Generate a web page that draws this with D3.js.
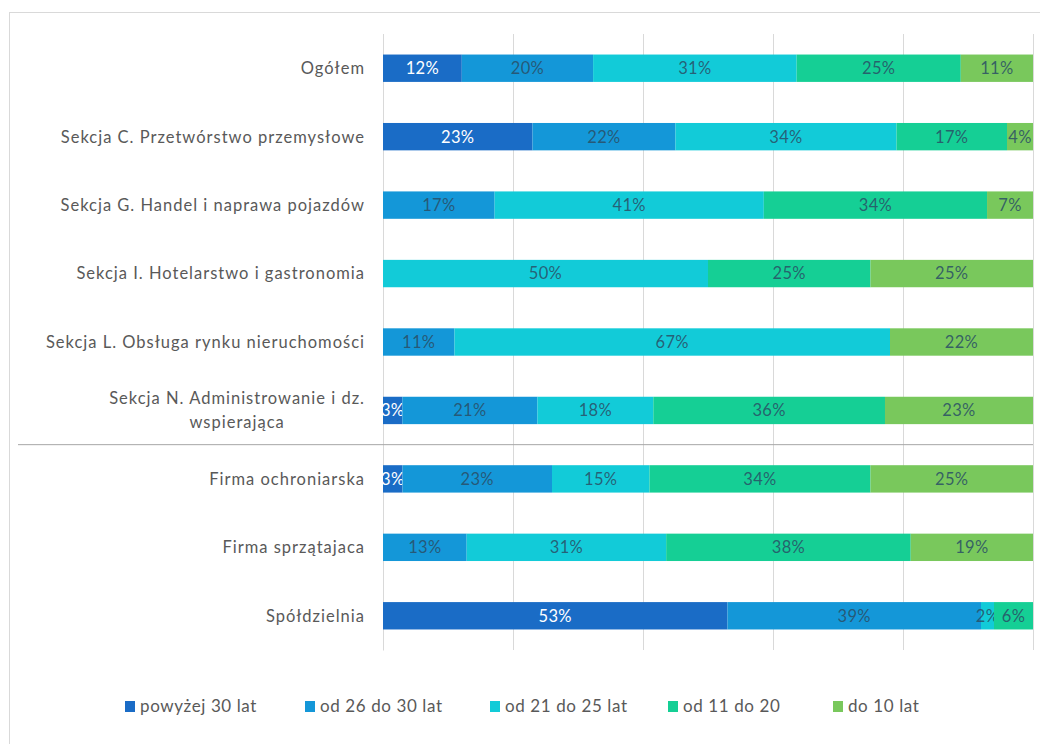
<!DOCTYPE html>
<html>
<head>
<meta charset="utf-8">
<script src="https://cdn.jsdelivr.net/npm/d3@7"></script>
<style>
  html, body { margin: 0; padding: 0; background: #fff; }
  svg { display: block; }
  text { font-family: Lato, "Open Sans", sans-serif; }
</style>
</head>
<body>
<svg id="chart" width="1040" height="744"></svg>
<script>
// Categories (top to bottom); "\n" splits a label over two lines
const categories = [
  "Ogółem",
  "Sekcja C. Przetwórstwo przemysłowe",
  "Sekcja G. Handel i naprawa pojazdów",
  "Sekcja I. Hotelarstwo i gastronomia",
  "Sekcja L. Obsługa rynku nieruchomości",
  "Sekcja N. Administrowanie i dz.\nwspierająca",
  "Firma ochroniarska",
  "Firma sprzątajaca",
  "Spółdzielnia"
];

const seriesNames = ["powyżej 30 lat", "od 26 do 30 lat", "od 21 do 25 lat", "od 11 do 20", "do 10 lat"];
const seriesColors = ["#1a6cc6", "#1497d8", "#12cbd8", "#15cf95", "#79c85c"];

// Share of each series per category (%), in category order
const powyzej30 = [12, 23, 0, 0, 0, 3, 3, 0, 53];
const od26do30  = [20, 22, 17, 0, 11, 21, 23, 13, 39];
const od21do25  = [31, 34, 41, 50, 67, 18, 15, 31, 2];
const od11do20  = [25, 17, 34, 25, 0, 36, 34, 38, 6];
const do10      = [11, 4, 7, 25, 22, 23, 25, 19, 0];

const xTicks = [0, 0.2, 0.4, 0.6, 0.8, 1];

const seriesValues = [powyzej30, od26do30, od21do25, od11do20, do10];
const rows = categories.map((c, i) => {
  const r = { category: c };
  seriesNames.forEach((s, k) => { r[s] = seriesValues[k][i]; });
  return r;
});

const svg = d3.select("#chart");

// outer frame
svg.append("rect")
  .attr("x", 9.5).attr("y", 12.5)
  .attr("width", 1040).attr("height", 744)
  .attr("fill", "#fff").attr("stroke", "#d9d9d9");

const x = d3.scaleLinear().domain([0, 1]).range([383, 1033]);
const y = d3.scaleBand().domain(categories).range([34, 650])
  .paddingInner(0.6).paddingOuter(0.3);

// vertical gridlines
svg.append("g")
  .selectAll("line")
  .data(xTicks)
  .join("line")
  .attr("x1", d => Math.round(x(d)) + 0.5)
  .attr("x2", d => Math.round(x(d)) + 0.5)
  .attr("y1", 34).attr("y2", 650)
  .attr("stroke", "#d9d9d9").attr("stroke-width", 1);

// category axis line (under the bars)
const yAxis = svg.append("g")
  .attr("transform", `translate(${x(0)},0)`)
  .call(d3.axisLeft(y).tickSize(0).tickFormat(""));
yAxis.select(".domain").attr("stroke", "#d9d9d9");

const stack = d3.stack().keys(seriesNames).offset(d3.stackOffsetExpand);
const layers = stack(rows);

const layerG = svg.append("g")
  .selectAll("g")
  .data(layers)
  .join("g")
  .attr("fill", (d, i) => seriesColors[i]);

layerG.selectAll("rect")
  .data(d => d)
  .join("rect")
  .attr("x", d => x(d[0]))
  .attr("width", d => Math.max(0, x(d[1]) - x(d[0])))
  .attr("y", d => y(d.data.category))
  .attr("height", y.bandwidth());

// value labels
layerG.each(function (layer, li) {
  d3.select(this).selectAll("text")
    .data(layer.filter(d => d.data[layer.key] > 0))
    .join("text")
    .attr("x", d => (x(d[0]) + x(d[1])) / 2)
    .attr("y", d => y(d.data.category) + y.bandwidth() / 2)
    .attr("dy", "0.36em")
    .attr("text-anchor", "middle")
    .attr("font-size", 16.5)
    .attr("letter-spacing", 0.3)
    .attr("fill", li === 0 ? "#ffffff" : "#2a4e66")
    .attr("fill-opacity", li === 0 ? 1 : 0.85)
    .text(d => d.data[layer.key] + "%");
});

const catLabels = svg.append("g")
  .selectAll("text")
  .data(categories)
  .join("text")
  .attr("fill", "#595959")
  .attr("font-size", 16.5)
  .attr("letter-spacing", 1);

catLabels.each(function (c) {
  const lines = c.split("\n");
  const t = d3.select(this);
  const cy = y(c) + y.bandwidth() / 2;
  const lh = 24;
  if (lines.length === 1) {
    t.attr("x", 365).attr("y", cy).attr("dy", "0.36em").attr("text-anchor", "end").text(c);
  } else {
    t.attr("text-anchor", "middle");
    t.selectAll("tspan").data(lines).join("tspan")
      .attr("x", 0)
      .attr("y", (d, i) => cy + (i - (lines.length - 1) / 2) * lh)
      .attr("dy", "0.36em")
      .text(d => d);
    // centre the block so its widest line ends at the right edge
    const w = this.getBBox().width;
    t.selectAll("tspan").attr("x", 365 - w / 2);
  }
});

// separator between sections and company types
const sepY = (y(categories[5]) + y.bandwidth() + y(categories[6])) / 2;
svg.append("line")
  .attr("x1", 18).attr("x2", 1033)
  .attr("y1", sepY).attr("y2", sepY)
  .attr("stroke", "#a6a6a6").attr("stroke-width", 1);

// legend
const legendX = [125, 305, 490, 668, 833];
const legend = svg.append("g")
  .selectAll("g")
  .data(seriesNames)
  .join("g")
  .attr("transform", (d, i) => `translate(${legendX[i]},706)`);
legend.append("rect")
  .attr("x", 0).attr("y", -5).attr("width", 10).attr("height", 11)
  .attr("fill", (d, i) => seriesColors[i]);
legend.append("text")
  .attr("x", 15).attr("dy", "0.36em")
  .attr("font-size", 17)
  .attr("letter-spacing", 0.6)
  .attr("fill", "#595959")
  .text(d => d);
</script>
</body>
</html>
